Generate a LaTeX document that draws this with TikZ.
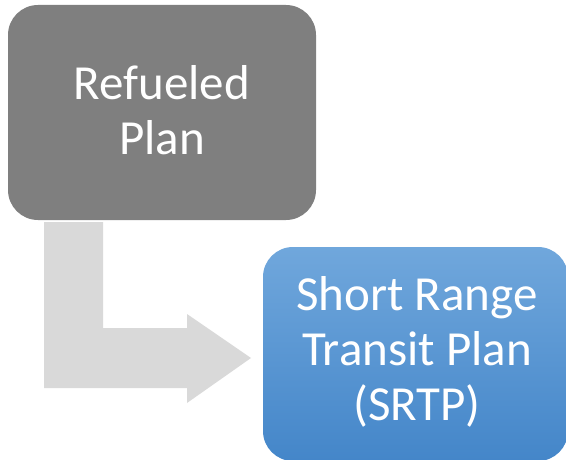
\documentclass[tikz,border=0pt]{standalone}
\usepackage{fontspec}
\setmainfont{Carlito}
\definecolor{boxgray}{HTML}{7F7F7F}
\definecolor{arrowgray}{HTML}{D9D9D9}
\definecolor{bluetop}{HTML}{70A7DC}
\definecolor{bluebot}{HTML}{4486C9}
\tikzset{
  boxtext/.style={text=white, align=center, inner sep=0pt,
    font=\fontsize{49}{55}\selectfont},
}
\begin{document}
\begin{tikzpicture}[x=1pt,y=-1pt]
\useasboundingbox (0,0) rectangle (566,460);
\clip (0,0) rectangle (566,460);
% gray box
\path[fill=boxgray, rounded corners=30pt] (8,5) rectangle (316,220);
\node[boxtext] (refueled) at (162,110) {Refueled\\Plan};
% blue box
\path[top color=bluetop, bottom color=bluebot, rounded corners=30pt] (263,247) rectangle (568,461);
\node[boxtext] (srtp) at (417,352) {Short Range\\Transit Plan\\(SRTP)};
% bent arrow
\fill[arrowgray] (44,222) -- (103,222) -- (103,328) -- (187,328) -- (187,314) -- (251,358) -- (187,403) -- (187,388) -- (44,388) -- cycle;
\end{tikzpicture}
\end{document}
